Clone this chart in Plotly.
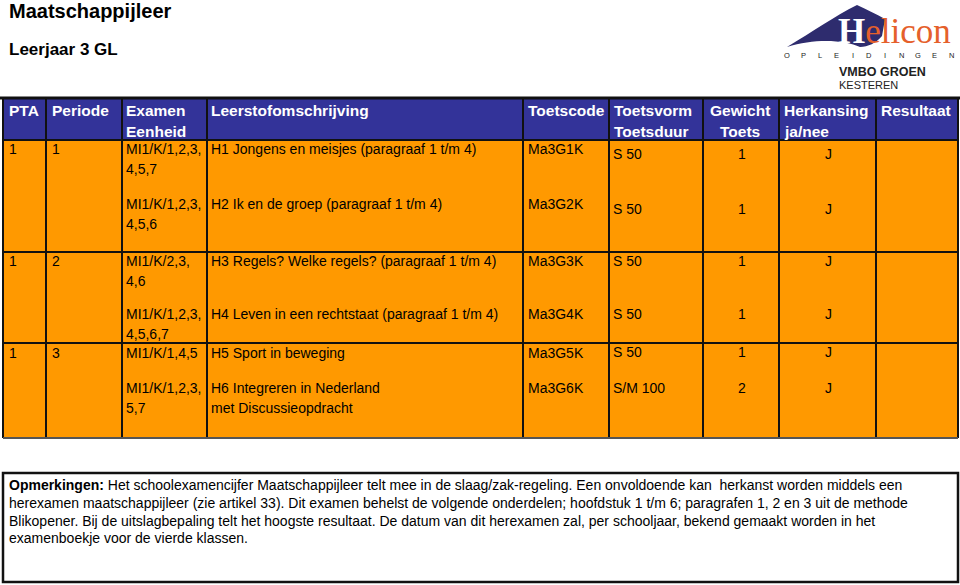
import plotly.graph_objects as go

# ---- data -------------------------------------------------------------
title = "Maatschappijleer"
subtitle = "Leerjaar 3 GL"

headers = [
    ["PTA"], ["Periode"], ["Examen", "Eenheid"], ["Leerstofomschrijving"],
    ["Toetscode"], ["Toetsvorm", "Toetsduur"], ["Gewicht", "Toets"],
    ["Herkansing", "ja/nee"], ["Resultaat"],
]

pta = ["1", "", "1", "", "1", ""]
periode = ["1", "", "2", "", "3", ""]
examen = [
    ["MI1/K/1,2,3,", "4,5,7"],
    ["MI1/K/1,2,3,", "4,5,6"],
    ["MI1/K/2,3,", "4,6"],
    ["MI1/K/1,2,3,", "4,5,6,7"],
    ["MI1/K/1,4,5"],
    ["MI1/K/1,2,3,", "5,7"],
]
leerstof = [
    ["H1 Jongens en meisjes (paragraaf 1 t/m 4)"],
    ["H2 Ik en de groep (paragraaf 1 t/m 4)"],
    ["H3 Regels? Welke regels? (paragraaf 1 t/m 4)"],
    ["H4 Leven in een rechtstaat (paragraaf 1 t/m 4)"],
    ["H5 Sport in beweging"],
    ["H6 Integreren in Nederland", "met Discussieopdracht"],
]
toetscode = ["Ma3G1K", "Ma3G2K", "Ma3G3K", "Ma3G4K", "Ma3G5K", "Ma3G6K"]
toetsvorm = ["S 50", "S 50", "S 50", "S 50", "S 50", "S/M 100"]
gewicht = ["1", "1", "1", "1", "1", "2"]
herkansing = ["J", "J", "J", "J", "J", "J"]

remarks = [
    "<b>Opmerkingen:</b> Het schoolexamencijfer Maatschappijleer telt mee in de slaag/zak-regeling. "
    "Een onvoldoende kan  herkanst worden middels een",
    "herexamen maatschappijleer (zie artikel 33). Dit examen behelst de volgende onderdelen; "
    "hoofdstuk 1 t/m 6; paragrafen 1, 2 en 3 uit de methode",
    "Blikopener. Bij de uitslagbepaling telt het hoogste resultaat. De datum van dit herexamen zal, "
    "per schooljaar, bekend gemaakt worden in het",
    "examenboekje voor de vierde klassen.",
]

# ---- layout constants -------------------------------------------------
W, H = 960, 585
FONT = "Liberation Sans, Arial, sans-serif"
ORANGE = "#FF9900"
BLUE = "#333399"
NAVY = "#2E2C6E"
LOGO_RED = "#E5602B"

col_x = [3, 46, 122, 207, 523, 609, 703, 779, 876, 958]
table_top, head_bottom, table_bottom = 98, 140, 438
group_lines = [252, 343]
row_y_left = [149, 204, 261, 314, 353, 388]
row_y_right = [154, 209, 261, 314, 352, 388]
line_gap = 20

fig = go.Figure()
shapes = []
ann = []


def text(x, y, s, size=14, color="black", bold=False, xanchor="left", family=FONT):
    ann.append(dict(
        x=x, y=y, xref="x", yref="y", text=f"<b>{s}</b>" if bold else s,
        showarrow=False, xanchor=xanchor, yanchor="middle",
        font=dict(family=family, size=size, color=color),
    ))


# titles
text(7, 11, title, size=20, bold=True)
text(7, 49, subtitle, size=17, bold=True)

# ---- table backgrounds ------------------------------------------------
shapes.append(dict(type="rect", x0=col_x[0], x1=col_x[-1], y0=head_bottom, y1=table_bottom,
                   fillcolor=ORANGE, line_width=0, layer="below"))
shapes.append(dict(type="rect", x0=col_x[0], x1=col_x[-1], y0=table_top, y1=head_bottom,
                   fillcolor=BLUE, line_width=0, layer="below"))

# grid lines
for x in col_x:
    shapes.append(dict(type="line", x0=x, x1=x, y0=table_top, y1=table_bottom,
                       line=dict(color="#111111", width=2)))
for y in [head_bottom] + group_lines:
    shapes.append(dict(type="line", x0=col_x[0], x1=col_x[-1], y0=y, y1=y,
                       line=dict(color="#111111", width=2)))
shapes.append(dict(type="line", x0=col_x[0], x1=col_x[-1], y0=table_bottom, y1=table_bottom,
                   line=dict(color="#555555", width=2)))
shapes.append(dict(type="line", x0=0, x1=W, y0=table_top, y1=table_top,
                   line=dict(color="#111111", width=3)))

# header text
head_x = [7, 50, 124, 209, 526, 612, 740, 782, 879]
for i, lines in enumerate(headers):
    anchor = "center" if i == 6 else "left"
    for j, s in enumerate(lines):
        text(head_x[i], 110 + 21 * j, s, size=15.5, color="white", bold=True, xanchor=anchor)

# body text
for r in range(len(toetscode)):
    yl, yr = row_y_left[r], row_y_right[r]
    text(7, yl, pta[r])
    text(50, yl, periode[r])
    for j, s in enumerate(examen[r]):
        text(124, yl + line_gap * j, s)
    for j, s in enumerate(leerstof[r]):
        text(209, yl + line_gap * j, s)
    text(526, yl, toetscode[r])
    text(611, yr, toetsvorm[r])
    text(742, yr, gewicht[r], xanchor="center")
    text(828, yr, herkansing[r], xanchor="center")

# remarks box
shapes.append(dict(type="rect", x0=3, x1=958, y0=473, y1=582,
                   line=dict(color="#111111", width=2.5), fillcolor="white"))
for i, s in enumerate(remarks):
    text(7, 485 + 17.8 * i, s, size=14)

# ---- logo -------------------------------------------------------------
shapes.append(dict(
    type="path",
    path="M 787 47 C 812 32, 835 16, 857 5 C 866 9, 876 14, 885 19 L 882 36 "
         "C 876 43, 868 47, 860 47 C 845 40, 815 38, 787 47 Z",
    fillcolor=NAVY, line_width=0,
))
serif = "Liberation Serif, DejaVu Serif, serif"
text(836, 31, "<span style='color:white'><b>H</b></span>elicon",
     size=35, color=LOGO_RED, family=serif)
for i, ch in enumerate("OPLEIDINGEN"):
    text(787 + i * 16.4, 55, ch, size=7.5, color="#222222", xanchor="center")
text(837, 72, "VMBO GROEN", size=12.5, color="#222222", bold=True)
text(837, 85, "KESTEREN", size=11, color="#222222")

fig.update_layout(
    width=W, height=H,
    margin=dict(l=0, r=0, t=0, b=0),
    paper_bgcolor="white", plot_bgcolor="white",
    xaxis=dict(range=[0, W], visible=False, fixedrange=True),
    yaxis=dict(range=[H, 0], visible=False, fixedrange=True),
    shapes=shapes, annotations=ann, showlegend=False,
)

# drop the default 8px body margin so the 960x585 page fits the window exactly
fig.write_html("out.html", config={"displayModeBar": False},
               post_script="document.body.style.margin='0';")
